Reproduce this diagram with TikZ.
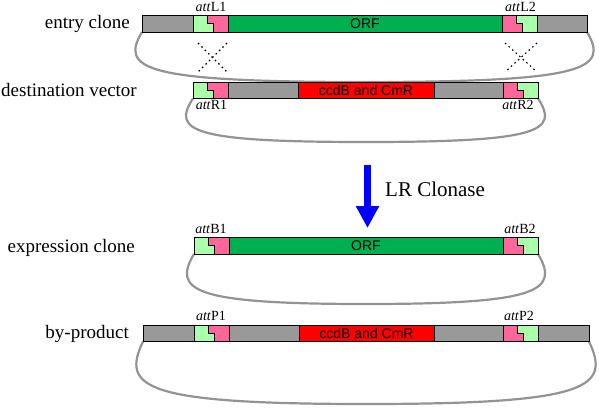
\documentclass[tikz,border=0pt]{standalone}
\usepackage{fontspec}
\setmainfont{Liberation Serif}
\newfontfamily\sansf{Liberation Sans}
\usetikzlibrary{arrows.meta,calc}
\definecolor{bargray}{HTML}{999999}
\definecolor{attgreen}{HTML}{AAFFAA}
\definecolor{attpink}{HTML}{FF6699}
\definecolor{orfgreen}{HTML}{00B050}
\definecolor{ccdred}{HTML}{FF0000}
\definecolor{loopgray}{HTML}{939393}
\definecolor{arrowblue}{HTML}{0000FF}
\tikzset{
  segline/.style={draw=black,line width=0.9pt},
  loopline/.style={draw=loopgray,line width=2.2pt},
  crossline/.style={draw=black,line width=1.1pt,dash pattern=on 1.6pt off 3.2pt},
  rowlabel/.style={font=\fontsize{19}{21}\selectfont,anchor=base east,inner sep=0pt},
  attlabel/.style={font=\fontsize{14}{16}\selectfont,anchor=base,inner sep=0pt},
  seglabel/.style={font=\sansf\fontsize{14}{16}\selectfont,inner sep=0pt},
}
% segment: x1, x2, ytop, colour
\newcommand\barseg[4]{\draw[segline,fill=#4] (#1,#3) rectangle (#2,#3+16.5);}
% att box: x, ytop, left colour, right colour
\newcommand\attbox[4]{%
  \fill[#3] (#1,#2) rectangle (#1+35,#2+16.5);
  \fill[#4] (#1+14,#2) -- (#1+35,#2) -- (#1+35,#2+16.5) -- (#1+20,#2+16.5)
    -- (#1+20,#2+8.25) -- (#1+14,#2+8.25) -- cycle;
  \draw[segline] (#1+14,#2) -- (#1+14,#2+8.25) -- (#1+20,#2+8.25) -- (#1+20,#2+16.5);
  \draw[segline] (#1,#2) rectangle (#1+35,#2+16.5);}
\begin{document}
\begin{tikzpicture}[x=1pt,y=-1pt]
\useasboundingbox (0,0) rectangle (599,407);
% loop end points
\coordinate (Al) at (142,32);   \coordinate (Ar) at (587,32);   \coordinate (Am) at (364.5,82);
\coordinate (Bl) at (193,98.5); \coordinate (Br) at (538,98.5); \coordinate (Bm) at (365.5,142);
\coordinate (Cl) at (194,254);  \coordinate (Cr) at (538,254);  \coordinate (Cm) at (366,304);
\coordinate (Dl) at (143,341.5);\coordinate (Dr) at (589,341.5);\coordinate (Dm) at (366,404);
% loops
\draw[loopline] (Al) .. controls +(-22,37) and +(-222,0) .. (Am) .. controls +(222,0) and +(22,37) .. (Ar);
\draw[loopline] (Bl) .. controls +(-22,33) and +(-172,0) .. (Bm) .. controls +(172,0) and +(22,33) .. (Br);
\draw[loopline] (Cl) .. controls +(-22,37) and +(-172,0) .. (Cm) .. controls +(172,0) and +(22,37) .. (Cr);
\draw[loopline] (Dl) .. controls +(-22,46) and +(-223,0) .. (Dm) .. controls +(223,0) and +(22,46) .. (Dr);
% row A: entry clone
\barseg{142}{193}{15.5}{bargray}
\attbox{193}{15.5}{attgreen}{attpink}
\barseg{228}{502}{15.5}{orfgreen}
\attbox{502}{15.5}{attpink}{attgreen}
\barseg{537}{587}{15.5}{bargray}
\node[seglabel] (orfA) at (365,23.75) {ORF};
\node[rowlabel] (entry) at (130,28) {entry clone};
\node[attlabel] (attL1) at (211,11) {\textit{att}L1};
\node[attlabel] (attL2) at (520.5,11) {\textit{att}L2};
% crosses
\draw[crossline] (198,43) -- (227,72);
\draw[crossline] (227,43) -- (198,72);
\draw[crossline] (505,43) -- (537,72);
\draw[crossline] (537,43) -- (505,72);
% row B: destination vector
\attbox{193}{82}{attgreen}{attpink}
\barseg{228}{298}{82}{bargray}
\barseg{298}{434}{82}{ccdred}
\barseg{434}{503}{82}{bargray}
\attbox{503}{82}{attpink}{attgreen}
\node[seglabel] (ccdB) at (366,90.25) {ccdB and CmR};
\node[rowlabel] (dest) at (137,96) {destination vector};
\node[attlabel] (attR1) at (211.5,109) {\textit{att}R1};
\node[attlabel] (attR2) at (518,109) {\textit{att}R2};
% arrow
\coordinate (arrS) at (367.5,165);
\coordinate (arrE) at (367.5,228);
\draw[draw=arrowblue,line width=7pt,-{Triangle[width=22pt,length=22pt]}] (arrS) -- (arrE);
\node[font=\fontsize{21}{24}\selectfont,anchor=base west,inner sep=0pt] (lrc) at (385,196) {LR Clonase};
% row C: expression clone
\attbox{194}{237.5}{attgreen}{attpink}
\barseg{229}{503}{237.5}{orfgreen}
\attbox{503}{237.5}{attpink}{attgreen}
\node[seglabel] (orfC) at (366,245.75) {ORF};
\node[rowlabel] (expr) at (135,252) {expression clone};
\node[attlabel] (attB1) at (211,233) {\textit{att}B1};
\node[attlabel] (attB2) at (520,233) {\textit{att}B2};
% row D: by-product
\barseg{143}{194}{325}{bargray}
\attbox{194}{325}{attgreen}{attpink}
\barseg{229}{299}{325}{bargray}
\barseg{299}{434}{325}{ccdred}
\barseg{434}{503.5}{325}{bargray}
\attbox{503.5}{325}{attpink}{attgreen}
\barseg{538.5}{589}{325}{bargray}
\node[seglabel] (ccdD) at (366.5,333.25) {ccdB and CmR};
\node[rowlabel] (byp) at (129,338) {by-product};
\node[attlabel] (attP1) at (211,320) {\textit{att}P1};
\node[attlabel] (attP2) at (519,320) {\textit{att}P2};
\end{tikzpicture}
\end{document}
